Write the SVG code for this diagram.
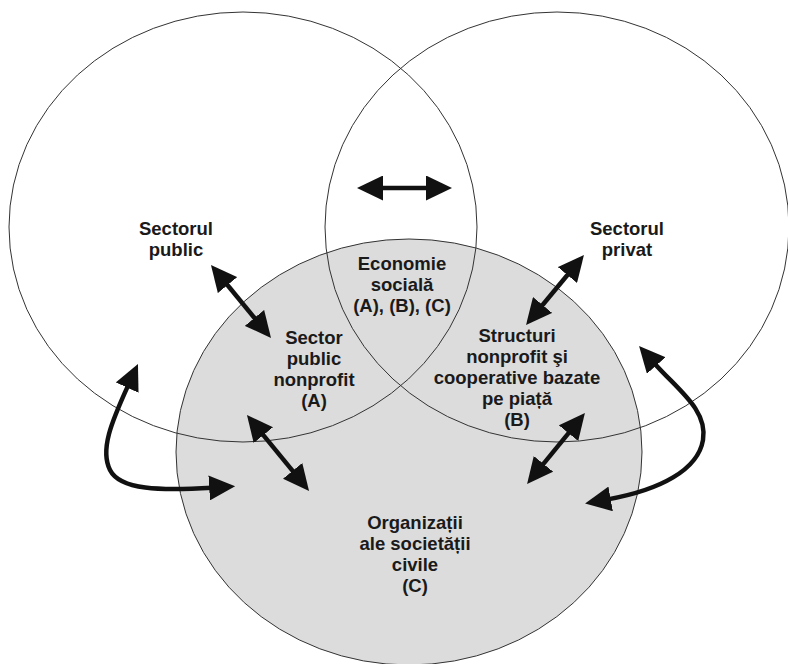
<svg xmlns="http://www.w3.org/2000/svg" width="788" height="664" viewBox="0 0 788 664">
  <style>
    .area { fill: none; stroke: #333; stroke-width: 1; }
    .civil { fill: #dcdcdc; stroke: #333; stroke-width: 1; }
    .label { font-family: "Liberation Sans", Arial, sans-serif; font-weight: bold; font-size: 18.5px; fill: #1a1a1a; text-anchor: middle; }
    .link { fill: none; stroke: #111; stroke-width: 4.5; marker-start: url(#head); marker-end: url(#head); }
  </style>
  <defs>
    <marker id="head" viewBox="0 0 26 25" refX="3" refY="12.5" markerWidth="26" markerHeight="25" markerUnits="userSpaceOnUse" orient="auto-start-reverse">
      <path d="M0,0 L26,12.5 L0,25 z" fill="#111"/>
    </marker>
  </defs>
  <rect width="788" height="664" fill="#fff"/>

  <!-- Civil society: shaded lower circle -->
  <g id="societate-civila">
    <ellipse class="civil" cx="409" cy="452" rx="233" ry="213"/>
    <text class="label" x="415" y="529">Organizații</text>
    <text class="label" x="415" y="550">ale societății</text>
    <text class="label" x="415" y="571">civile</text>
    <text class="label" x="415" y="592">(C)</text>
  </g>

  <!-- Public sector: upper left circle -->
  <g id="sectorul-public">
    <ellipse class="area" cx="243" cy="227" rx="234" ry="215"/>
    <text class="label" x="176" y="235">Sectorul</text>
    <text class="label" x="176" y="256">public</text>
  </g>

  <!-- Private sector: upper right circle -->
  <g id="sectorul-privat">
    <ellipse class="area" cx="557" cy="227" rx="232" ry="215"/>
    <text class="label" x="627" y="235">Sectorul</text>
    <text class="label" x="627" y="256">privat</text>
  </g>

  <!-- Overlap regions -->
  <g id="economie-sociala">
    <text class="label" x="402" y="270">Economie</text>
    <text class="label" x="402" y="291">socială</text>
    <text class="label" x="402" y="312">(A), (B), (C)</text>
  </g>
  <g id="sector-public-nonprofit">
    <text class="label" x="314" y="344">Sector</text>
    <text class="label" x="314" y="365">public</text>
    <text class="label" x="314" y="386">nonprofit</text>
    <text class="label" x="314" y="407">(A)</text>
  </g>
  <g id="structuri-nonprofit">
    <text class="label" x="517" y="342">Structuri</text>
    <text class="label" x="517" y="363">nonprofit şi</text>
    <text class="label" x="517" y="384">cooperative bazate</text>
    <text class="label" x="517" y="405">pe piață</text>
    <text class="label" x="517" y="426">(B)</text>
  </g>

  <!-- Two-way connectors -->
  <g id="connectors">
    <path class="link" d="M380 188 L429 188"/>
    <path class="link" d="M225.6 282.8 L256.4 320.2"/>
    <path class="link" d="M569.3 272.7 L540.7 307.3"/>
    <path class="link" d="M261.5 432.8 L294.5 473.2"/>
    <path class="link" d="M570.4 430.8 L541.6 466.2"/>
    <path class="link" d="M128.4 384.9 C111 423, 100 450, 110 470 C120 490, 160 491, 212.2 487.7"/>
    <path class="link" d="M654.3 363.2 C678 390, 708 410, 703 440 C698 470, 660 490, 607.7 499.4"/>
  </g>
</svg>
